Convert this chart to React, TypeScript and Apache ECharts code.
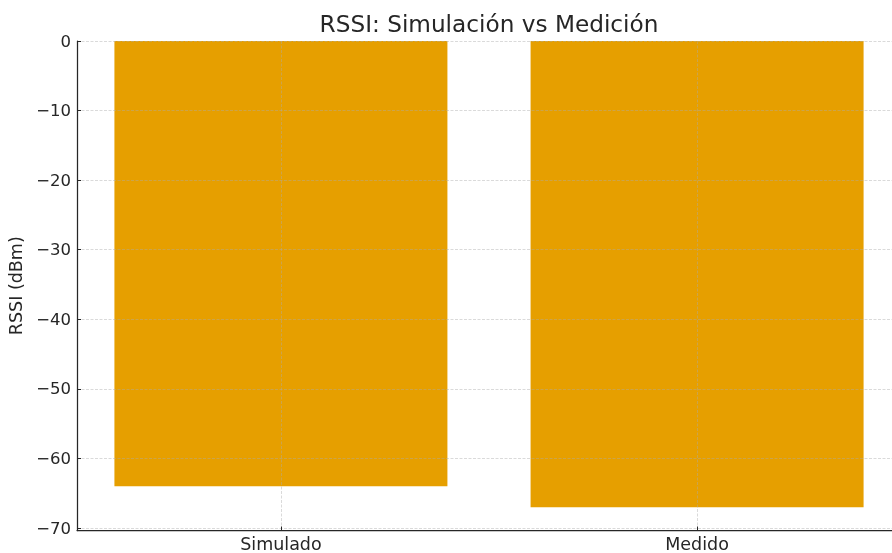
import React, { useEffect, useRef } from "react";
import * as echarts from "echarts";

const categories = ["Simulado", "Medido"];
const rssiValues = [-64, -67];
const yTicks = [0, -10, -20, -30, -40, -50, -60, -70];
const titleText = "RSSI: Simulación vs Medición";
const yAxisName = "RSSI (dBm)";

export default function App() {
  const ref = useRef<HTMLDivElement>(null);
  useEffect(() => {
    const chart = echarts.init(ref.current!, null, { renderer: "svg" });
    const xIdx = categories.map((_, i) => i);
    const font = "DejaVu Sans";
    chart.setOption({
      animation: false,
      graphic: [
        {
          type: "text",
          x: 489,
          y: 23,
          style: {
            text: titleText,
            textAlign: "center",
            textVerticalAlign: "middle",
            fontSize: 23.2,
            fontFamily: font,
            fill: "#262626",
          },
        },
      ],
      grid: { left: 77, right: -9, top: 41, bottom: 22.5, containLabel: false, outerBoundsMode: "none" },
      xAxis: {
        type: "value",
        min: -0.49,
        max: 1.49,
        z: 5,
        axisLine: { onZero: false, lineStyle: { color: "#262626", width: 1.25 } },
        axisTick: { inside: true, length: 4, customValues: xIdx, lineStyle: { color: "#262626" } },
        axisLabel: {
          customValues: xIdx,
          formatter: (v: number) => categories[Math.round(v)] ?? "",
          fontSize: 17.5,
          fontFamily: font,
          color: "#262626",
          margin: 4,
        },
        splitLine: {
          show: true,
          lineStyle: { color: "rgba(170,170,170,0.55)", type: [3, 1.5], width: 0.8 },
        },
      },
      yAxis: {
        type: "value",
        min: -70.35,
        max: 0,
        z: 5,
        name: yAxisName,
        nameLocation: "middle",
        nameGap: 50,
        nameTextStyle: { fontSize: 17.5, fontFamily: font, color: "#262626" },
        axisLine: { show: true, onZero: false, lineStyle: { color: "#262626", width: 1.25 } },
        axisTick: { show: true, inside: true, length: 4, customValues: yTicks, lineStyle: { color: "#262626" } },
        axisLabel: {
          customValues: yTicks,
          formatter: (v: number) => String(v).replace("-", "\u2212"),
          fontSize: 16.5,
          fontFamily: font,
          color: "#262626",
          margin: 6,
        },
        splitLine: {
          show: true,
          lineStyle: { color: "rgba(170,170,170,0.55)", type: [3, 1.5], width: 0.8 },
        },
      },
      series: [
        {
          type: "bar",
          z: 1,
          barWidth: 333,
          data: xIdx.map((x, i) => [x, rssiValues[i]]),
          itemStyle: { color: "#E69F00" },
        },
      ],
    });
    return () => chart.dispose();
  }, []);
  return (
    <div
      ref={ref}
      style={{ position: "fixed", left: 0, top: 0, width: 892, height: 553 }}
    />
  );
}
